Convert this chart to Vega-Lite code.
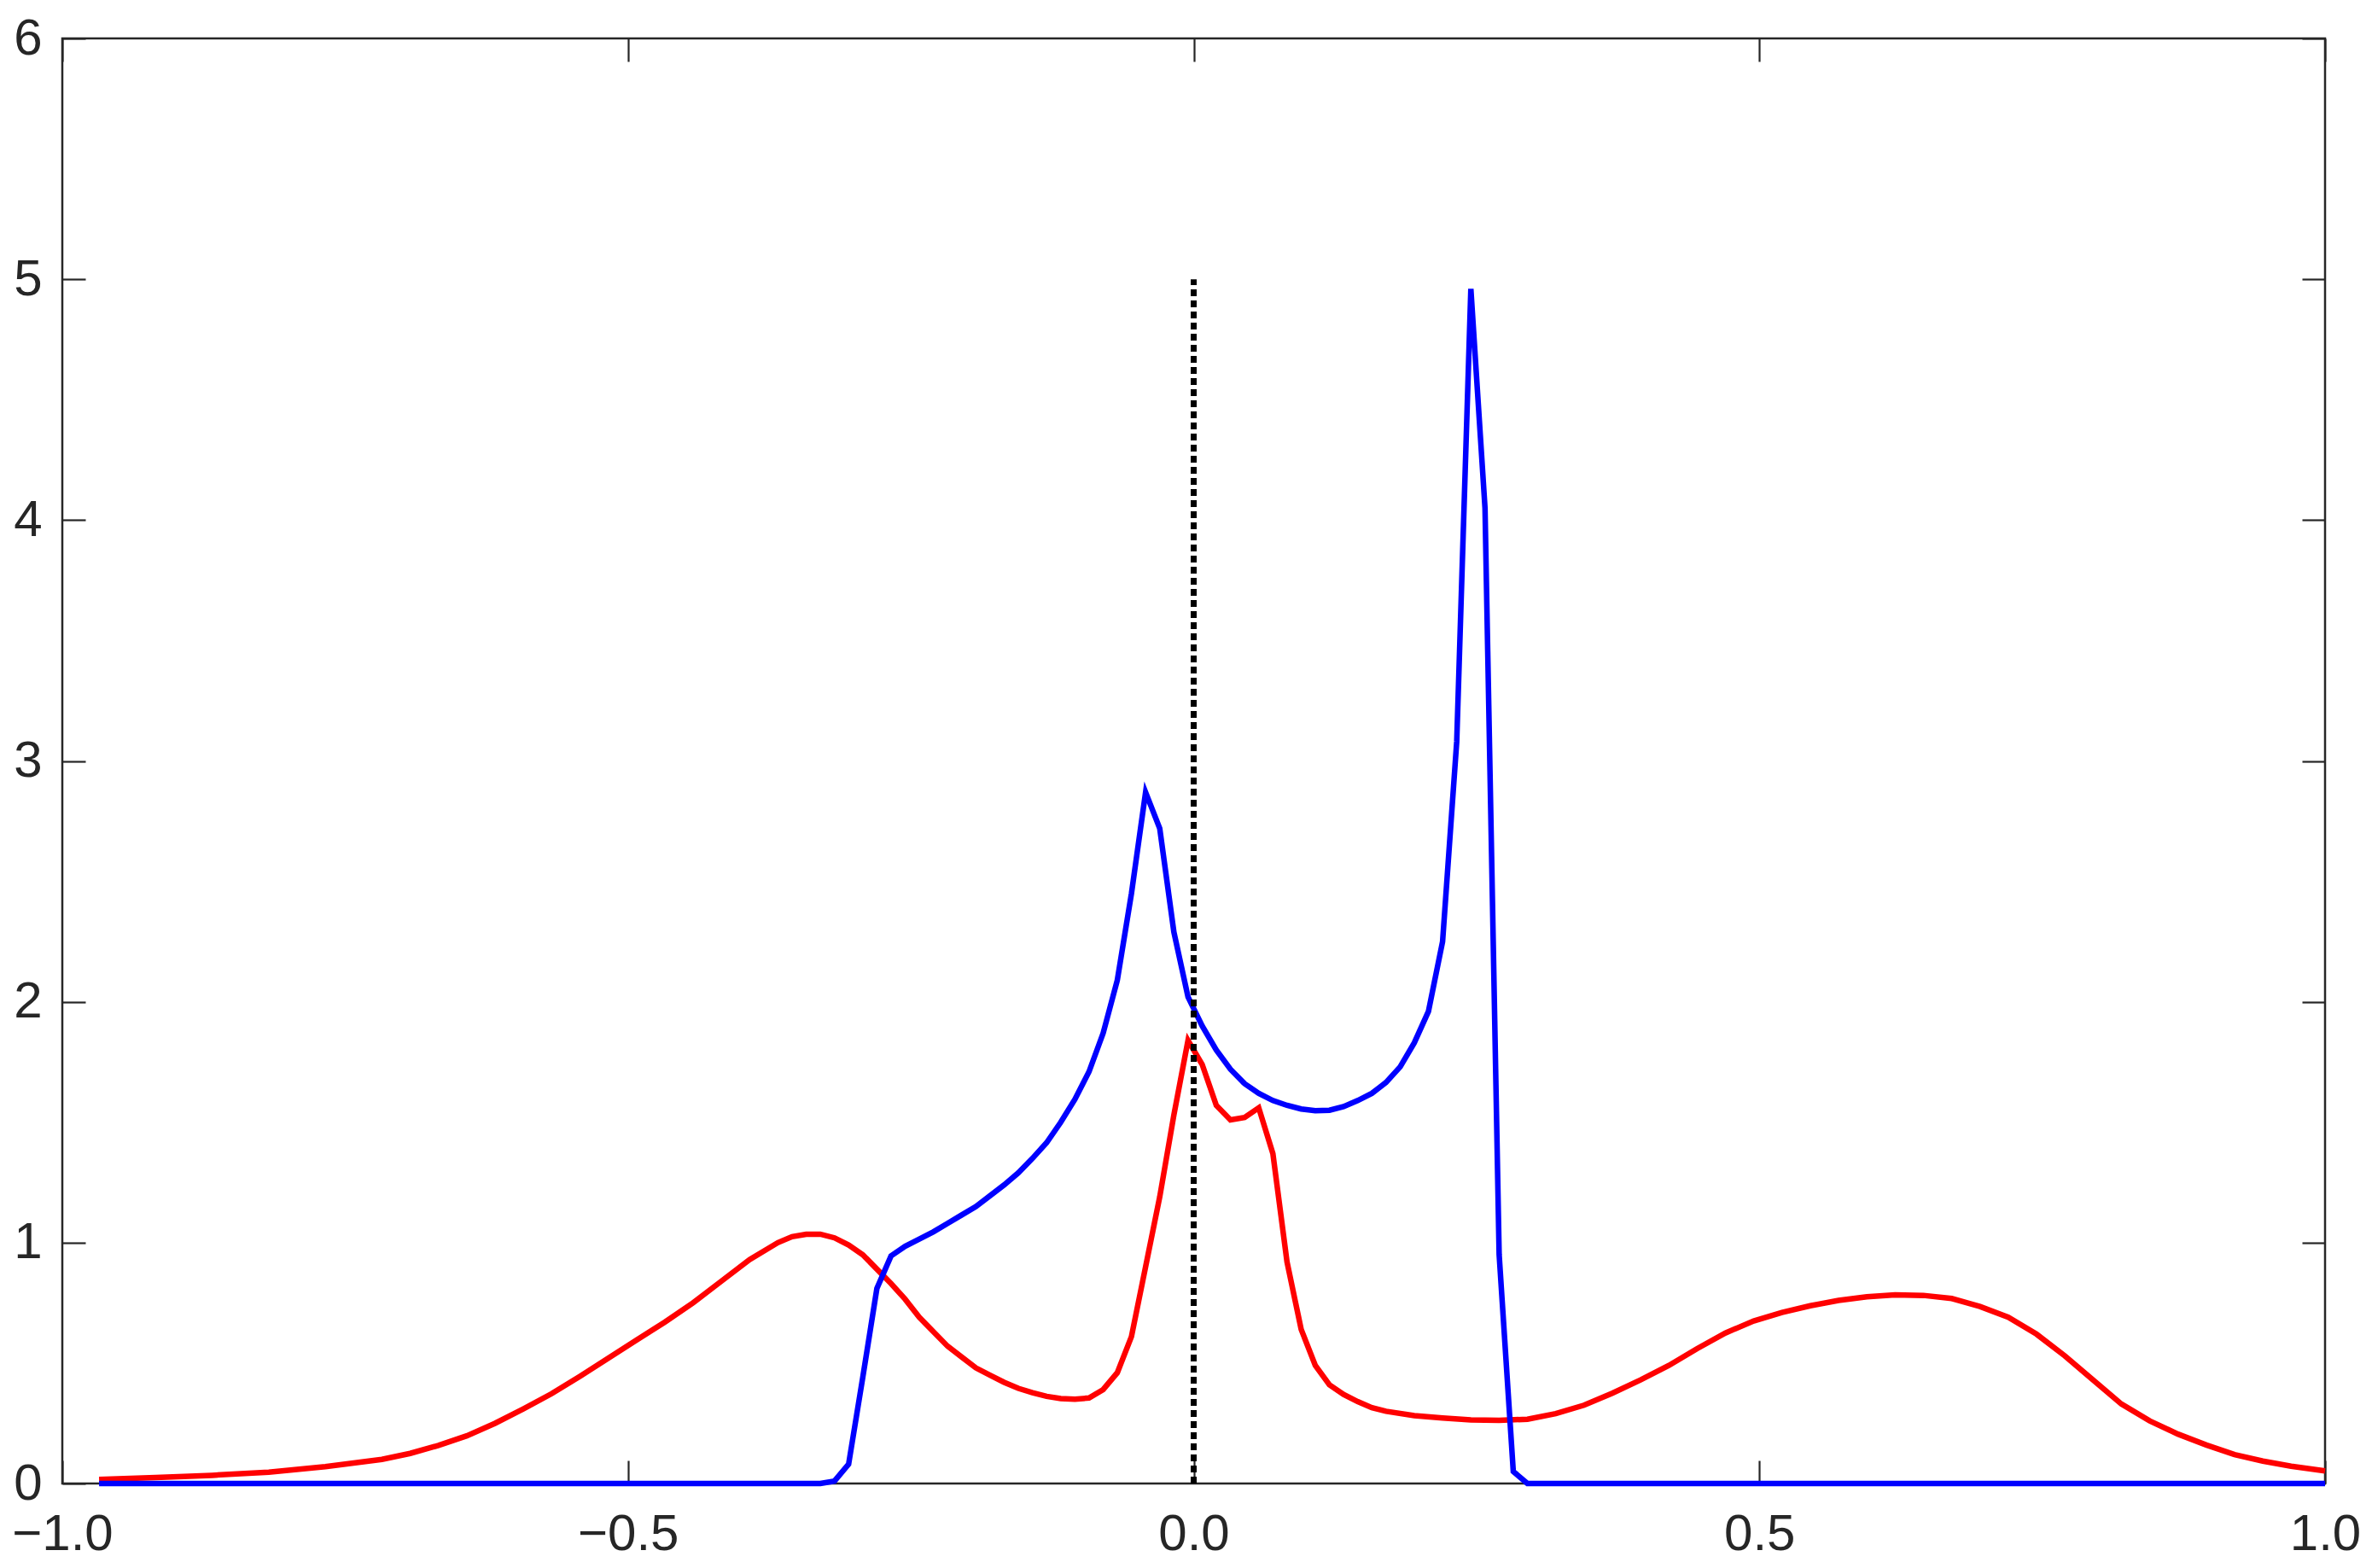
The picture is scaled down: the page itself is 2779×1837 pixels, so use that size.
{
  "$schema": "https://vega.github.io/schema/vega-lite/v6.json",
  "autosize": "none",
  "padding": {"left": 73, "top": 45, "right": 55, "bottom": 99},
  "width": 2651,
  "height": 1693,
  "background": "white",
  "config": {
    "view": {"stroke": "#262626", "strokeWidth": 2.5},
    "font": "Liberation Sans"
  },
  "datasets": {
    "red": [
      {"x": -0.9675, "y": 0.017}, {"x": -0.9175, "y": 0.025}, {"x": -0.8675, "y": 0.034}, {"x": -0.8175, "y": 0.047},
      {"x": -0.7675, "y": 0.07}, {"x": -0.7175, "y": 0.10}, {"x": -0.6925, "y": 0.125}, {"x": -0.6675, "y": 0.158},
      {"x": -0.6425, "y": 0.198}, {"x": -0.6175, "y": 0.25}, {"x": -0.5925, "y": 0.31}, {"x": -0.5675, "y": 0.373},
      {"x": -0.5425, "y": 0.445}, {"x": -0.5175, "y": 0.52}, {"x": -0.4925, "y": 0.595}, {"x": -0.4675, "y": 0.67},
      {"x": -0.4425, "y": 0.75}, {"x": -0.4175, "y": 0.84}, {"x": -0.3925, "y": 0.93}, {"x": -0.3675, "y": 1.0},
      {"x": -0.355, "y": 1.025}, {"x": -0.3425, "y": 1.035}, {"x": -0.33, "y": 1.035}, {"x": -0.3175, "y": 1.02},
      {"x": -0.305, "y": 0.99}, {"x": -0.2925, "y": 0.95}, {"x": -0.28, "y": 0.89}, {"x": -0.2675, "y": 0.83},
      {"x": -0.255, "y": 0.765}, {"x": -0.2425, "y": 0.69}, {"x": -0.23, "y": 0.63}, {"x": -0.2175, "y": 0.57},
      {"x": -0.205, "y": 0.525}, {"x": -0.1925, "y": 0.48}, {"x": -0.18, "y": 0.45}, {"x": -0.1675, "y": 0.42},
      {"x": -0.155, "y": 0.395}, {"x": -0.1425, "y": 0.377}, {"x": -0.13, "y": 0.362}, {"x": -0.1175, "y": 0.353},
      {"x": -0.105, "y": 0.35}, {"x": -0.0925, "y": 0.355}, {"x": -0.08, "y": 0.39}, {"x": -0.0675, "y": 0.46},
      {"x": -0.055, "y": 0.61}, {"x": -0.0425, "y": 0.90}, {"x": -0.03, "y": 1.19}, {"x": -0.0175, "y": 1.53},
      {"x": -0.005, "y": 1.84}, {"x": 0.0075, "y": 1.74}, {"x": 0.02, "y": 1.57}, {"x": 0.0325, "y": 1.51},
      {"x": 0.045, "y": 1.52}, {"x": 0.0575, "y": 1.56}, {"x": 0.07, "y": 1.37}, {"x": 0.0825, "y": 0.92},
      {"x": 0.095, "y": 0.64}, {"x": 0.1075, "y": 0.49}, {"x": 0.12, "y": 0.41}, {"x": 0.1325, "y": 0.37},
      {"x": 0.145, "y": 0.34}, {"x": 0.1575, "y": 0.315}, {"x": 0.17, "y": 0.30}, {"x": 0.195, "y": 0.282},
      {"x": 0.22, "y": 0.272}, {"x": 0.245, "y": 0.264}, {"x": 0.27, "y": 0.262}, {"x": 0.295, "y": 0.267},
      {"x": 0.32, "y": 0.29}, {"x": 0.345, "y": 0.325}, {"x": 0.37, "y": 0.375}, {"x": 0.395, "y": 0.43},
      {"x": 0.42, "y": 0.49}, {"x": 0.445, "y": 0.56}, {"x": 0.47, "y": 0.625}, {"x": 0.495, "y": 0.675},
      {"x": 0.52, "y": 0.71}, {"x": 0.545, "y": 0.738}, {"x": 0.57, "y": 0.76}, {"x": 0.595, "y": 0.775},
      {"x": 0.62, "y": 0.783}, {"x": 0.645, "y": 0.781}, {"x": 0.67, "y": 0.768}, {"x": 0.695, "y": 0.735},
      {"x": 0.72, "y": 0.69}, {"x": 0.745, "y": 0.62}, {"x": 0.77, "y": 0.53}, {"x": 0.795, "y": 0.43},
      {"x": 0.82, "y": 0.33}, {"x": 0.845, "y": 0.26}, {"x": 0.87, "y": 0.205}, {"x": 0.895, "y": 0.16},
      {"x": 0.92, "y": 0.12}, {"x": 0.945, "y": 0.093}, {"x": 0.97, "y": 0.072}, {"x": 1.0, "y": 0.052}
    ],
    "blue": [
      {"x": -0.9675, "y": 0}, {"x": -0.33, "y": 0}, {"x": -0.3175, "y": 0.01}, {"x": -0.305, "y": 0.08},
      {"x": -0.2925, "y": 0.44}, {"x": -0.28, "y": 0.81}, {"x": -0.2675, "y": 0.945}, {"x": -0.255, "y": 0.985},
      {"x": -0.2425, "y": 1.015}, {"x": -0.23, "y": 1.045}, {"x": -0.2175, "y": 1.08}, {"x": -0.205, "y": 1.115},
      {"x": -0.1925, "y": 1.15}, {"x": -0.18, "y": 1.195}, {"x": -0.1675, "y": 1.24}, {"x": -0.155, "y": 1.29},
      {"x": -0.1425, "y": 1.35}, {"x": -0.13, "y": 1.415}, {"x": -0.1175, "y": 1.50}, {"x": -0.105, "y": 1.595},
      {"x": -0.0925, "y": 1.71}, {"x": -0.08, "y": 1.87}, {"x": -0.0675, "y": 2.09}, {"x": -0.055, "y": 2.45},
      {"x": -0.0425, "y": 2.87}, {"x": -0.03, "y": 2.72}, {"x": -0.0175, "y": 2.29}, {"x": -0.005, "y": 2.02},
      {"x": 0.0075, "y": 1.90}, {"x": 0.02, "y": 1.80}, {"x": 0.0325, "y": 1.72}, {"x": 0.045, "y": 1.66},
      {"x": 0.0575, "y": 1.62}, {"x": 0.07, "y": 1.59}, {"x": 0.0825, "y": 1.57}, {"x": 0.095, "y": 1.555},
      {"x": 0.1075, "y": 1.548}, {"x": 0.12, "y": 1.55}, {"x": 0.1325, "y": 1.565}, {"x": 0.145, "y": 1.59},
      {"x": 0.1575, "y": 1.62}, {"x": 0.17, "y": 1.665}, {"x": 0.1825, "y": 1.73}, {"x": 0.195, "y": 1.83},
      {"x": 0.2075, "y": 1.96}, {"x": 0.22, "y": 2.25}, {"x": 0.2325, "y": 3.08}, {"x": 0.245, "y": 4.96},
      {"x": 0.2575, "y": 4.05}, {"x": 0.27, "y": 0.95}, {"x": 0.2825, "y": 0.05}, {"x": 0.295, "y": 0},
      {"x": 1.0, "y": 0}
    ],
    "marker": [{"x": 0, "y": 0, "y2": 5}]
  },
  "layer": [
    {
      "data": {"name": "red"},
      "mark": {"type": "line", "color": "#ff0000", "strokeWidth": 6.5},
      "encoding": {
        "x": {"field": "x", "type": "quantitative",
          "scale": {"domain": [-1, 1], "nice": false, "zero": false},
          "axis": {"orient": "bottom", "values": [-1, -0.5, 0, 0.5, 1], "format": ".1f", "offset": -27,
            "tickSize": 27, "tickWidth": 2.2, "tickColor": "#262626", "domain": false, "grid": false, "title": null,
            "labelFontSize": 60, "labelPadding": 30, "labelColor": "#262626", "labelFont": "Liberation Sans",
            "labelFlush": false, "labelOverlap": false, "labelBound": false}},
        "y": {"field": "y", "type": "quantitative",
          "scale": {"domain": [0, 6], "nice": false, "zero": false},
          "axis": {"orient": "left", "values": [0, 1, 2, 3, 4, 5, 6], "format": "d", "offset": -27,
            "tickSize": 27, "tickWidth": 2.2, "tickColor": "#262626", "domain": false, "grid": false, "title": null,
            "labelFontSize": 60, "labelPadding": 24, "labelColor": "#262626", "labelFont": "Liberation Sans",
            "labelFlush": false, "labelOverlap": false, "labelBound": false}}
      }
    },
    {
      "data": {"name": "blue"},
      "mark": {"type": "line", "color": "#0000ff", "strokeWidth": 6.5},
      "encoding": {
        "x": {"field": "x", "type": "quantitative",
          "axis": {"orient": "top", "values": [-1, -0.5, 0, 0.5, 1], "offset": -27, "tickSize": 27,
            "tickWidth": 2.2, "tickColor": "#262626", "domain": false, "grid": false, "labels": false, "title": null}},
        "y": {"field": "y", "type": "quantitative",
          "axis": {"orient": "right", "values": [0, 1, 2, 3, 4, 5, 6], "offset": -27, "tickSize": 27,
            "tickWidth": 2.2, "tickColor": "#262626", "domain": false, "grid": false, "labels": false, "title": null}}
      }
    },
    {
      "data": {"name": "marker"},
      "mark": {"type": "rule", "color": "#000000", "strokeWidth": 7, "strokeDash": [8, 5]},
      "encoding": {
        "x": {"field": "x", "type": "quantitative", "axis": null},
        "y": {"field": "y", "type": "quantitative", "axis": null},
        "y2": {"field": "y2"}
      }
    }
  ],
  "resolve": {"axis": {"x": "independent", "y": "independent"}}
}
